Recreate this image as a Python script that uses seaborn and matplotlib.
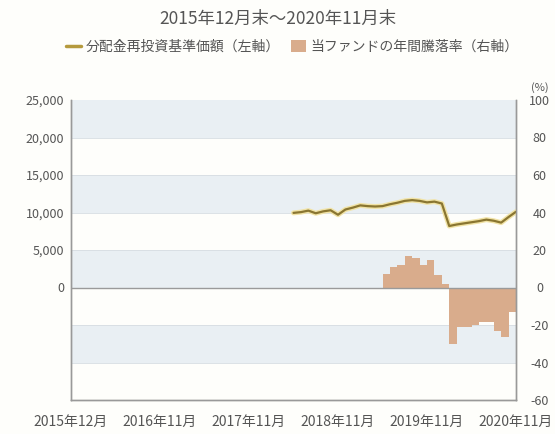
import numpy as np
import pandas as pd
import matplotlib
matplotlib.use("Agg")
import matplotlib.pyplot as plt
import matplotlib.patheffects as pe
from matplotlib.lines import Line2D
from matplotlib.patches import Patch
import seaborn as sns

# ---- data ----
title = "2015年12月末～2020年11月末"
xtick_labels = ["2015年12月", "2016年11月", "2017年11月", "2018年11月", "2019年11月", "2020年11月"]
xtick_pos = [0, 12, 24, 36, 48, 60]

nav_pos = list(range(30, 61))
nav_vals = [9950, 10050, 10250, 9900, 10150, 10300, 9700, 10400, 10650, 10950,
            10850, 10800, 10850, 11100, 11300, 11550, 11650, 11550, 11350, 11450,
            11200, 8200, 8400, 8550, 8700, 8850, 9050, 8900, 8650, 9400, 10100]

bar_pos = [42.5 + i for i in range(18)]
bar_vals = [7, 11, 12, 17, 16, 12, 14.5, 6.5, 2, -30, -21, -21, -20, -18.5, -18.5, -23, -26.5, -13]

left_ticks = [0, 5000, 10000, 15000, 20000, 25000]
right_ticks = [-60, -40, -20, 0, 20, 40, 60, 80, 100]

sns.set_theme(style="white")
plt.rcParams['font.family'] = ['Noto Sans CJK JP', 'DejaVu Sans']

txt = "#555555"
line_c = "#8a7631"
bar_c = "#d9ac8c"
band_c = "#e9eff3"

fig = plt.figure(figsize=(5.55, 4.34), dpi=100, facecolor="#fefefb")
ax = fig.add_axes([71/555, 1-400/434, (516-71)/555, 300/434])
ax2 = ax.twinx()

# bands on ax2 (drawn behind)
ax2.set_ylim(-60, 100)
for lo in [80, 40, 0, -40]:
    ax2.axhspan(lo, lo + 20, color=band_c, lw=0, zorder=0)
for y in right_ticks[1:-1]:
    ax2.axhline(y, color="#d6dde2", lw=0.6, zorder=0.5)
ax2.axhline(0, color="#9a9a9a", lw=1.0, zorder=3)

bdf = pd.DataFrame({"x": bar_pos, "y": bar_vals})
sns.barplot(data=bdf, x="x", y="y", native_scale=True, width=1, color=bar_c,
            saturation=1, linewidth=0, ax=ax2, zorder=2)
ax2.set_ylim(-60, 100)
ax2.set_yticks(right_ticks)
ax2.set_yticklabels([str(v) for v in right_ticks])
ax2.tick_params(axis='y', length=0, pad=17, labelsize=9, labelcolor=txt)
for lab in ax2.get_yticklabels():
    lab.set_horizontalalignment('center')
ax2.set_ylabel("")
ax2.set_xlabel("")

# line on ax, above
ax.set_zorder(ax2.get_zorder() + 1)
ax.patch.set_visible(False)
ndf = pd.DataFrame({"x": nav_pos, "y": nav_vals})
sns.lineplot(data=ndf, x="x", y="y", ax=ax, color=line_c, lw=1.6,
             path_effects=[pe.Stroke(linewidth=3.6, foreground="#f1e3a6"), pe.Normal()])
ax.set_ylim(-15000, 25000)
ax.set_xlim(0, 60)
ax.set_yticks(left_ticks)
ax.set_yticklabels([f"{v:,}" for v in left_ticks])
ax.tick_params(axis='y', length=0, pad=5, labelsize=9, labelcolor=txt)
ax.set_xticks(xtick_pos)
ax.set_xticklabels(xtick_labels)
ax.tick_params(axis='x', length=4, width=0.8, color="#999999", direction='in',
               pad=11, labelsize=10, labelcolor=txt)
ax.set_xlabel("")
ax.set_ylabel("")
ax2.set_xlim(0, 60)

for a in (ax, ax2):
    a.spines["top"].set_visible(False)
    for s in ["left", "right", "bottom"]:
        a.spines[s].set_color("#999999")
        a.spines[s].set_linewidth(1.0)

fig.text(0.5, 1 - 19/434, title, ha="center", va="center", fontsize=12.5, color=txt)
fig.text(540/555, 1 - 88/434, "(%)", ha="center", va="center", fontsize=8, color=txt)

handles = [Line2D([], [], color="#b59a3d", lw=2.5),
           Patch(facecolor=bar_c, edgecolor="none")]
labels = ["分配金再投資基準価額（左軸）", "当ファンドの年間騰落率（右軸）"]
fig.legend(handles, labels, loc="center", bbox_to_anchor=(292/555, 1 - 47/434), ncol=2,
           frameon=False, fontsize=10, labelcolor=txt, handlelength=1.1,
           handletextpad=0.3, columnspacing=0.8, handleheight=0.9)

fig.savefig("out.png", dpi=100, facecolor=fig.get_facecolor())
